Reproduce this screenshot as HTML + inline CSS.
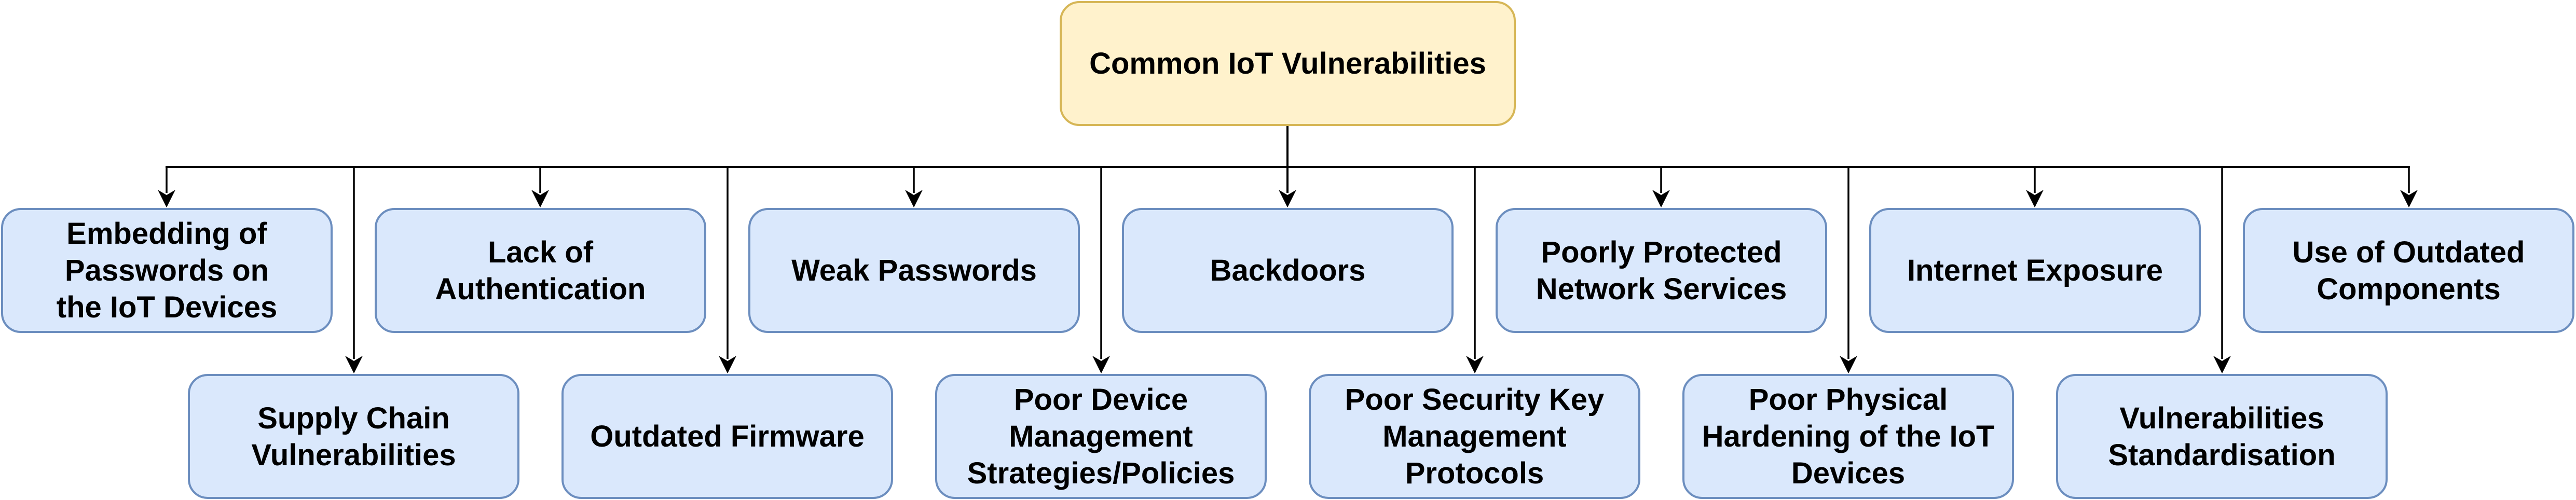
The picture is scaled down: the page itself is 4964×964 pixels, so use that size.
<!DOCTYPE html>
<html><head><meta charset="utf-8"><style>
html,body{margin:0;padding:0;background:#fff;width:4964px;height:964px;overflow:hidden;}
.b{position:absolute;box-sizing:border-box;border:4px solid #6c8ebf;background:#dae8fc;border-radius:38px;display:flex;align-items:center;justify-content:center;text-align:center;font-family:"Liberation Sans",Arial,sans-serif;font-weight:bold;font-size:58px;line-height:71px;color:#000;width:639px;height:241px;}
.r{border-color:#d6b656;background:#fff2cc;}
svg{position:absolute;left:0;top:0;}
</style></head><body>
<svg width="4964" height="964" viewBox="0 0 4964 964">
<g stroke="#000" stroke-width="4" fill="none">
<line x1="2481" y1="243" x2="2481" y2="372"/>
<line x1="319" y1="322" x2="4644" y2="322"/>
</g>
<g stroke="#000" stroke-width="3.5" fill="none">
<line x1="321" y1="322" x2="321" y2="372"/>
<line x1="1041" y1="322" x2="1041" y2="372"/>
<line x1="1761" y1="322" x2="1761" y2="372"/>
<line x1="3201" y1="322" x2="3201" y2="372"/>
<line x1="3921" y1="322" x2="3921" y2="372"/>
<line x1="4642" y1="322" x2="4642" y2="372"/>
<line x1="682" y1="322" x2="682" y2="692"/>
<line x1="1402" y1="322" x2="1402" y2="692"/>
<line x1="2122" y1="322" x2="2122" y2="692"/>
<line x1="2842" y1="322" x2="2842" y2="692"/>
<line x1="3562" y1="322" x2="3562" y2="692"/>
<line x1="4282" y1="322" x2="4282" y2="692"/>
</g>
<g fill="#000">
<path d="M304,366 L321,400 L338,366 L321,376 Z"/>
<path d="M1024,366 L1041,400 L1058,366 L1041,376 Z"/>
<path d="M1744,366 L1761,400 L1778,366 L1761,376 Z"/>
<path d="M2464,366 L2481,400 L2498,366 L2481,376 Z"/>
<path d="M3184,366 L3201,400 L3218,366 L3201,376 Z"/>
<path d="M3904,366 L3921,400 L3938,366 L3921,376 Z"/>
<path d="M4625,366 L4642,400 L4659,366 L4642,376 Z"/>
<path d="M665,686 L682,720 L699,686 L682,696 Z"/>
<path d="M1385,686 L1402,720 L1419,686 L1402,696 Z"/>
<path d="M2105,686 L2122,720 L2139,686 L2122,696 Z"/>
<path d="M2825,686 L2842,720 L2859,686 L2842,696 Z"/>
<path d="M3545,686 L3562,720 L3579,686 L3562,696 Z"/>
<path d="M4265,686 L4282,720 L4299,686 L4282,696 Z"/>
</g>
</svg>
<div class="b r" style="left:2042px;top:2px;width:879px;">Common IoT Vulnerabilities</div>
<div class="b" style="left:2px;top:401px;">Embedding of<br>Passwords on<br>the IoT Devices</div>
<div class="b" style="left:722px;top:401px;">Lack of<br>Authentication</div>
<div class="b" style="left:1442px;top:401px;">Weak Passwords</div>
<div class="b" style="left:2162px;top:401px;">Backdoors</div>
<div class="b" style="left:2882px;top:401px;">Poorly Protected<br>Network Services</div>
<div class="b" style="left:3602px;top:401px;">Internet Exposure</div>
<div class="b" style="left:4322px;top:401px;">Use of Outdated<br>Components</div>
<div class="b" style="left:362px;top:721px;">Supply Chain<br>Vulnerabilities</div>
<div class="b" style="left:1082px;top:721px;">Outdated Firmware</div>
<div class="b" style="left:1802px;top:721px;">Poor Device<br>Management<br>Strategies/Policies</div>
<div class="b" style="left:2522px;top:721px;">Poor Security Key<br>Management<br>Protocols</div>
<div class="b" style="left:3242px;top:721px;">Poor Physical<br>Hardening of the IoT<br>Devices</div>
<div class="b" style="left:3962px;top:721px;">Vulnerabilities<br>Standardisation</div>
</body></html>
